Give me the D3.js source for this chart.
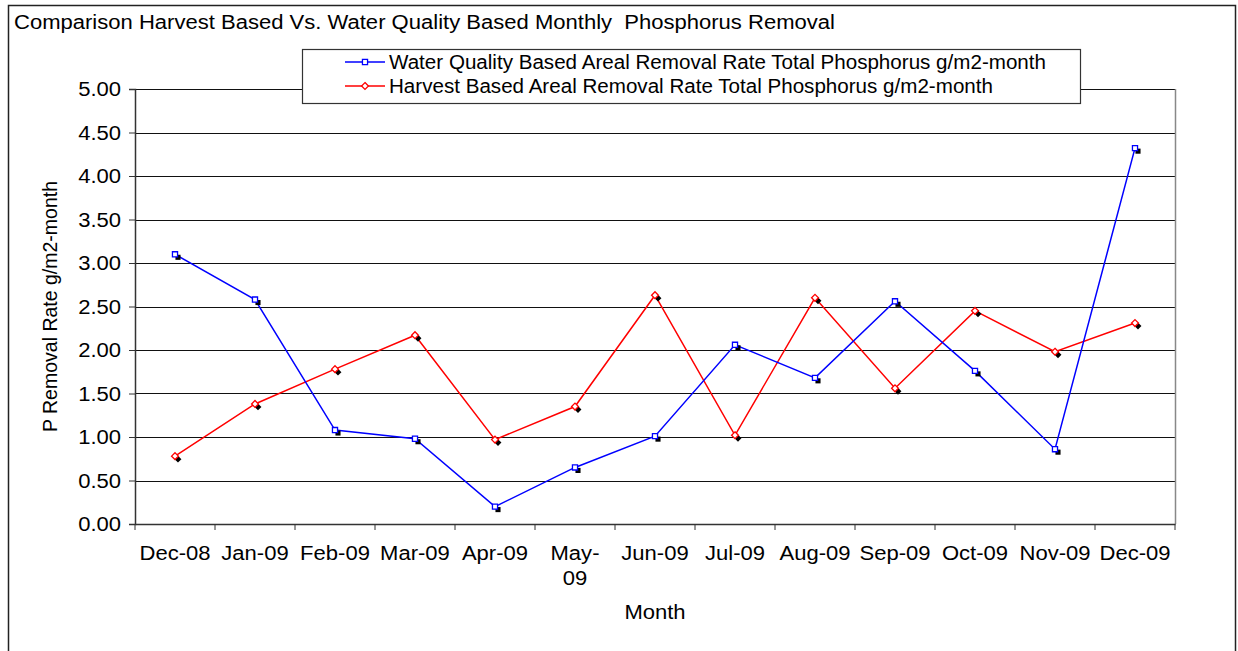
<!DOCTYPE html>
<html><head><meta charset="utf-8">
<script src="https://cdn.jsdelivr.net/npm/d3@7"></script>
<style>
body{margin:0;background:#fff;}
svg text{font-family:"Liberation Sans",Arial,sans-serif;fill:#000;white-space:pre;}
</style></head>
<body><svg id="c" width="1238" height="651"></svg>
<script>
const months = ["Dec-08","Jan-09","Feb-09","Mar-09","Apr-09","May-09","Jun-09","Jul-09","Aug-09","Sep-09","Oct-09","Nov-09","Dec-09"];
const waterQuality = [3.10,2.58,1.08,0.98,0.20,0.65,1.01,2.06,1.68,2.56,1.76,0.86,4.32];
const harvest = [0.78,1.38,1.78,2.17,0.97,1.35,2.63,1.02,2.60,1.56,2.45,1.98,2.31];
const yTicks = [0,0.5,1,1.5,2,2.5,3,3.5,4,4.5,5];
const seriesNames = ["Water Quality Based Areal Removal Rate Total Phosphorus g/m2-month","Harvest Based Areal Removal Rate Total Phosphorus g/m2-month"];
const title = "Comparison Harvest Based Vs. Water Quality Based Monthly  Phosphorus Removal";

const svg = d3.select("#c");
const FS = 19.5, SX = 1.13, SXL = 1.056;
const L=135,R=1175,T=89,B=524;
const x = d3.scaleBand().domain(months).range([L,R]);
const y = d3.scaleLinear().domain([0,5]).range([B,T]);

// outer border
svg.append("rect").attr("x",8.5).attr("y",5.5).attr("width",1227).attr("height",660)
  .attr("fill","#fff").attr("stroke","#222").attr("stroke-width",1.5);

// title
svg.append("text").attr("class","hs").attr("x",14).attr("y",29).attr("font-size",FS).text(title);

// gridlines
svg.append("g").selectAll("line").data(yTicks.filter(d=>d>0)).join("line")
  .attr("x1",L).attr("x2",R).attr("y1",d=>Math.round(y(d))+0.5).attr("y2",d=>Math.round(y(d))+0.5)
  .attr("stroke","#111").attr("stroke-width",1);
// right plot border
svg.append("line").attr("x1",R+0.5).attr("x2",R+0.5).attr("y1",T).attr("y2",B).attr("stroke","#888").attr("stroke-width",1.5);

// y axis
const ya = svg.append("g").attr("transform",`translate(${L},0)`)
  .call(d3.axisLeft(y).tickValues(yTicks).tickFormat(d3.format(".2f")).tickSize(6).tickPadding(8));
ya.select(".domain").attr("stroke","#333").attr("stroke-width",1.5);
ya.selectAll(".tick line").attr("stroke","#333");
ya.selectAll("text").attr("class","hs").attr("font-size",FS).attr("font-family",null).attr("dy","0.35em");

// x axis
const xa = svg.append("g").attr("transform",`translate(0,${B})`)
  .call(d3.axisBottom(x).tickSize(0).tickFormat(""));
xa.select(".domain").attr("stroke","#333").attr("stroke-width",1.5);
xa.selectAll(".tick").remove();
// boundary ticks
svg.append("g").selectAll("line").data(d3.range(months.length+1)).join("line")
  .attr("x1",i=>L+i*x.bandwidth()).attr("x2",i=>L+i*x.bandwidth())
  .attr("y1",B).attr("y2",B+6).attr("stroke","#333");
// x labels
const xl = svg.append("g").selectAll("text").data(months).join("text")
  .attr("class","hs").attr("font-size",FS).attr("text-anchor","middle")
  .attr("x",d=>x(d)+x.bandwidth()/2).attr("y",560);
xl.each(function(d){
  const t=d3.select(this);
  if(d==="May-09"){
    t.append("tspan").attr("x",x(d)+x.bandwidth()/2).text("May-");
    t.append("tspan").attr("x",x(d)+x.bandwidth()/2).attr("dy",25).text("09");
  } else t.text(d);
});

// axis titles
svg.append("text").attr("class","hs").attr("font-size",FS).attr("text-anchor","middle")
  .attr("x",(L+R)/2).attr("y",619).text("Month");
svg.append("text").attr("font-size",FS).attr("text-anchor","middle")
  .attr("transform",`translate(57,${(T+B)/2}) rotate(-90)`).text("P Removal Rate g/m2-month");

// series
const line = d3.line().x((d,i)=>x(months[i])+x.bandwidth()/2).y(d=>y(d));
const sq = d3.symbol().type(d3.symbolSquare).size(26);
const di = d3.symbol().type(d3.symbolDiamond2).size(30);
function drawSeries(vals,color,sym){
  const g = svg.append("g");
  g.append("path").datum(vals).attr("d",line).attr("fill","none").attr("stroke",color).attr("stroke-width",1.5);
  g.selectAll(".sh").data(vals).join("path").attr("class","sh")
    .attr("d",sym).attr("fill","#000")
    .attr("transform",(d,i)=>`translate(${x(months[i])+x.bandwidth()/2+3},${y(d)+3})`);
  g.selectAll(".mk").data(vals).join("path").attr("class","mk")
    .attr("d",sym).attr("fill","#fff").attr("stroke",color).attr("stroke-width",1.3)
    .attr("transform",(d,i)=>`translate(${x(months[i])+x.bandwidth()/2},${y(d)})`);
}
drawSeries(harvest,"#ff0000",di);
drawSeries(waterQuality,"#0000ff",sq);

// legend
const lg = svg.append("g");
lg.append("rect").attr("x",302.5).attr("y",49.5).attr("width",778).attr("height",54)
  .attr("fill","#fff").attr("stroke","#333").attr("stroke-width",1.2);
const legItems = [{n:seriesNames[0],c:"#0000ff",s:sq},{n:seriesNames[1],c:"#ff0000",s:di}];
legItems.forEach((it,i)=>{
  const cy = 62+i*24;
  lg.append("line").attr("x1",345).attr("x2",385).attr("y1",cy).attr("y2",cy).attr("stroke",it.c).attr("stroke-width",1.5);
  lg.append("path").attr("d",it.s).attr("fill","#fff").attr("stroke",it.c).attr("stroke-width",1.3)
    .attr("transform",`translate(365,${cy})`);
  lg.append("text").attr("class","hl").attr("font-size",FS).attr("x",389).attr("y",cy+7).text(it.n);
});

// horizontal stretch of text to mimic the reference rendering
function stretch(sel,f){
  sel.each(function(){
    const t=d3.select(this);
    const parts = t.selectAll("tspan").size()>0 ? t.selectAll("tspan") : t;
    parts.each(function(){
      const len=this.getComputedTextLength();
      d3.select(this).attr("textLength",len*f).attr("lengthAdjust","spacingAndGlyphs");
    });
  });
}
stretch(svg.selectAll("text.hs"),SX);
stretch(svg.selectAll("text.hl"),SXL);
</script></body></html>
